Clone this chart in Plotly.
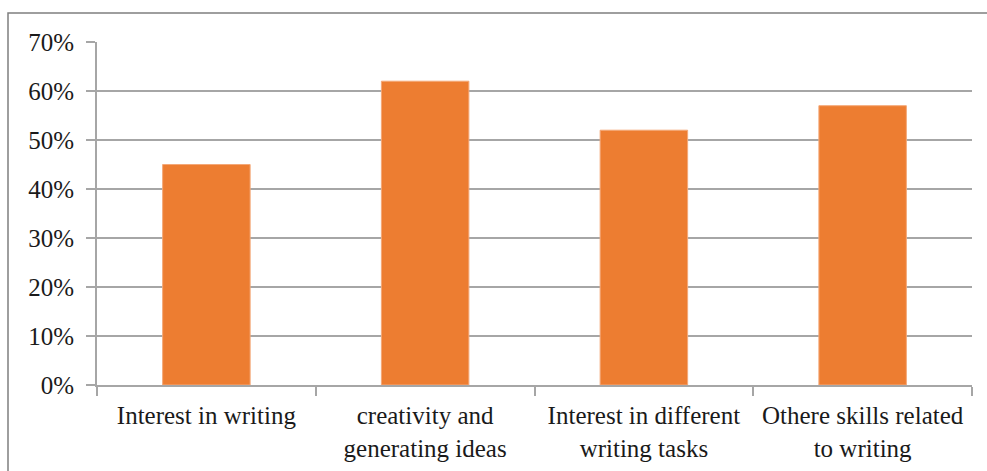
import plotly.graph_objects as go

categories = ["Interest in writing", "creativity and generating ideas",
              "Interest in different writing tasks", "Othere skills related to writing"]
tick_labels = ["Interest in writing", "creativity and<br>generating ideas",
               "Interest in different<br>writing tasks", "Othere skills related<br>to writing"]
values = [0.45, 0.62, 0.52, 0.57]
y_ticks = [0, 0.1, 0.2, 0.3, 0.4, 0.5, 0.6, 0.7]

W, H = 987, 471
ml, mr, mt, mb = 97, 15, 42, 86
pw, ph = W - ml - mr, H - mt - mb

fig = go.Figure(go.Bar(x=categories, y=values, marker=dict(color="#ED7D31",
                line=dict(color="#F4A878", width=1))))

fig.update_layout(
    width=W, height=H,
    margin=dict(l=ml, r=mr, t=mt, b=mb, pad=0),
    paper_bgcolor="white", plot_bgcolor="white",
    bargap=0.6, showlegend=False,
    font=dict(family="Liberation Serif, Times New Roman, serif", size=25, color="#1a1a1a"),
    xaxis=dict(tickmode="array", tickvals=categories, ticktext=tick_labels,
               tickson="boundaries", ticks="outside", ticklen=9, tickcolor="#A6A6A6",
               tickwidth=2, showline=True, linecolor="#A6A6A6", linewidth=2,
               showgrid=False, tickfont=dict(size=25), ticklabelstandoff=7,
               tickangle=0, automargin=False),
    yaxis=dict(range=[0, 0.7], tickvals=y_ticks, tickformat=".0%",
               ticks="outside", ticklen=9, tickcolor="#A6A6A6", tickwidth=2,
               showline=True, linecolor="#A6A6A6", linewidth=2,
               showgrid=True, gridcolor="#A6A6A6", gridwidth=2, zeroline=False,
               tickfont=dict(size=25), ticklabelstandoff=7, automargin=False),
    shapes=[dict(type="rect", xref="paper", yref="paper",
                 x0=(8 - ml) / pw, x1=(W + 20 - ml) / pw,
                 y0=-(H + 20 - (H - mb)) / ph, y1=(H - mb - 13) / ph,
                 line=dict(color="#7F7F7F", width=1.5), fillcolor="rgba(0,0,0,0)",
                 layer="below")],
)

fig.write_html("out.html")
